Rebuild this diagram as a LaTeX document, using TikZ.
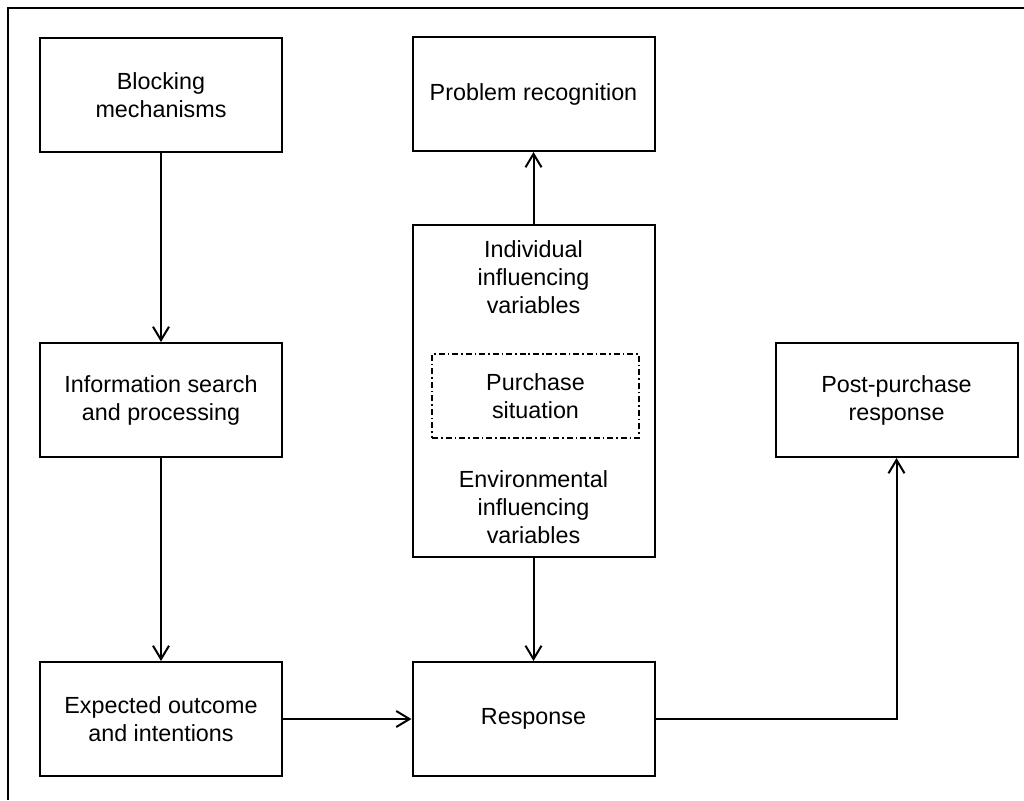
\documentclass[tikz,border=0pt]{standalone}
\usepackage{fontspec}
\setmainfont{Liberation Sans}
\usetikzlibrary{arrows.meta}
\begin{document}
\begin{tikzpicture}[x=0.75pt,y=-0.75pt,
  box/.style={draw=black,line width=1.5pt,minimum width=181.5pt,minimum height=85.5pt,
    align=center,inner sep=0pt,font=\fontsize{17.5}{21}\selectfont},
  label/.style={align=center,inner sep=0pt,font=\fontsize{17.5}{21}\selectfont},
  dashbox/.style={draw=black,line width=1.1pt,dash pattern=on 4.5pt off 2.2pt on 1.2pt off 2.2pt,
    minimum width=155pt,minimum height=63pt,align=center,inner sep=0pt,
    font=\fontsize{17.5}{21}\selectfont},
  flow/.style={line width=1.5pt,-{Straight Barb[length=10pt,width=12pt,line width=1.5pt]}},
  frame/.style={line width=1.6pt}]
  \useasboundingbox (0,0) rectangle (1024,800);
  % open frame: top and left edges only
  \coordinate (fbl) at (8,800);
  \coordinate (ftl) at (8,8);
  \coordinate (ftr) at (1024,8);
  \draw[frame] (fbl) -- (ftl) -- (ftr);

  % left column
  \node[box] (block) at (161,95) {Blocking\\mechanisms};
  \node[box] (info) at (161,400) {Information search\\and processing};
  \node[box] (expect) at (161,719) {Expected outcome\\and intentions};

  % middle column
  \node[box] (problem) at (533.5,94) {Problem recognition};
  \node[box,minimum height=249pt] (infl) at (533.5,391) {};
  \node[label] (indiv) at (533.5,277) {Individual\\influencing\\variables};
  \node[dashbox] (purchase) at (535.5,396) {Purchase\\situation};
  \node[label] (env) at (533.5,507) {Environmental\\influencing\\variables};
  \node[box] (resp) at (533.5,719) {Response};

  % right column
  \node[box] (post) at (896.5,400) {Post-purchase\\response};

  % connectors
  \draw[flow] (block) -- (info);
  \draw[flow] (info) -- (expect);
  \draw[flow] (infl) -- (problem);
  \draw[flow] (infl) -- (resp);
  \draw[flow] (expect) -- (resp);
  \draw[flow] (resp.east) -| (post.south);
\end{tikzpicture}
\end{document}
